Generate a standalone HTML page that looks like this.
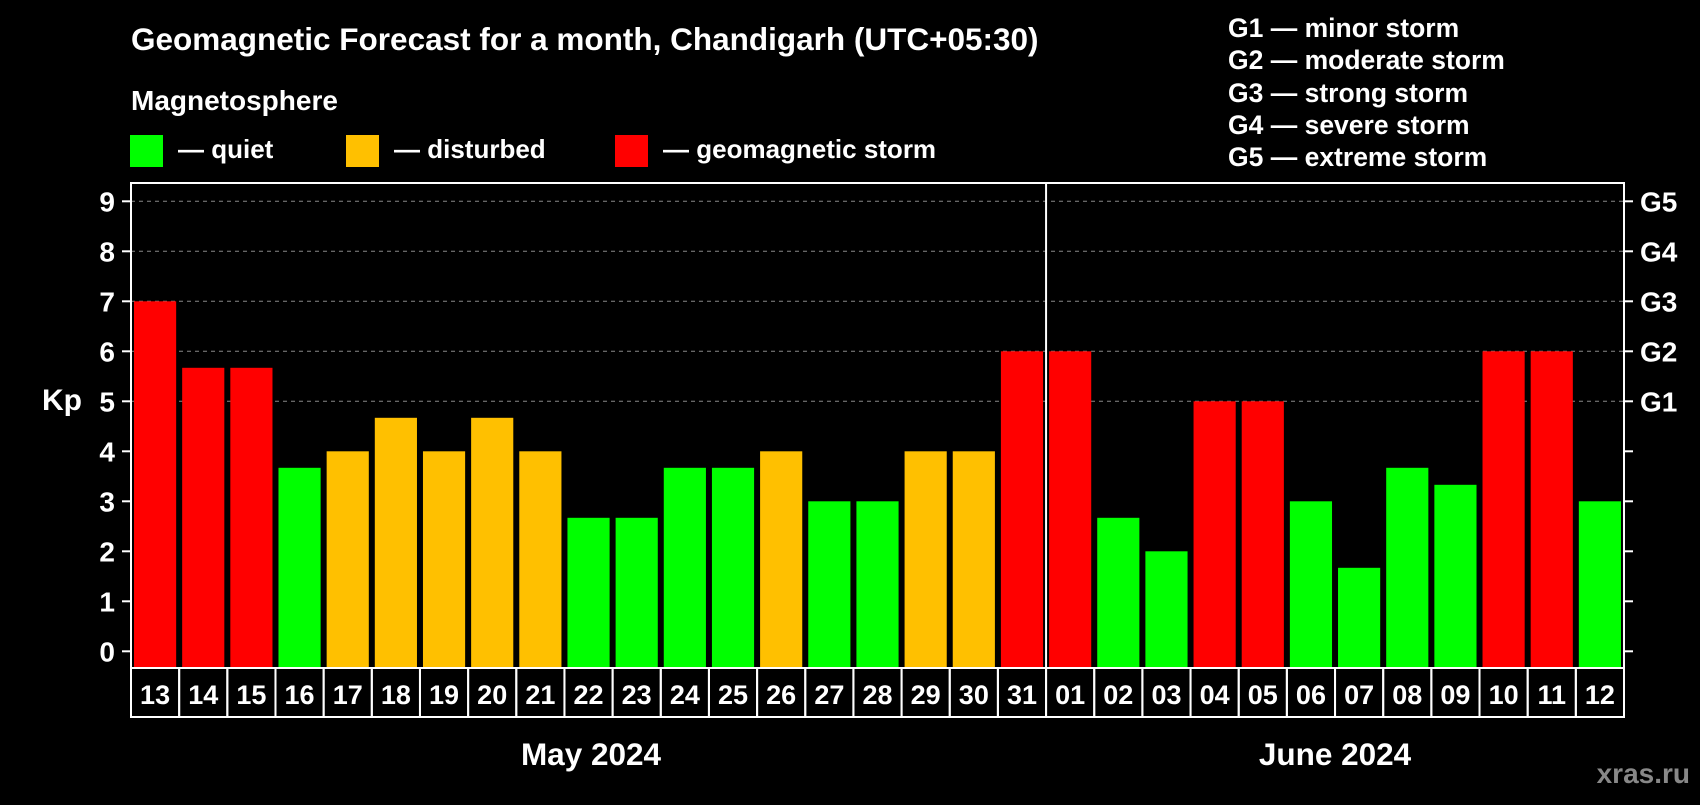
<!DOCTYPE html>
<html><head><meta charset="utf-8"><style>
body{margin:0;background:#000;width:1700px;height:800px;overflow:hidden;font-family:"Liberation Sans",sans-serif}
svg text{font-family:"Liberation Sans",sans-serif;font-weight:bold;fill:#fff}
</style></head><body>
<svg id="c" width="1700" height="800">
<text x="131" y="50" font-size="31.5">Geomagnetic Forecast for a month, Chandigarh (UTC+05:30)</text>
<text x="131" y="110" font-size="28">Magnetosphere</text>
<rect x="130" y="135" width="33" height="32" fill="#00ff00"/>
<text x="178" y="158" font-size="26">— quiet</text>
<rect x="346" y="135" width="33" height="32" fill="#ffc000"/>
<text x="394" y="158" font-size="26">— disturbed</text>
<rect x="615" y="135" width="33" height="32" fill="#ff0000"/>
<text x="663" y="158" font-size="26">— geomagnetic storm</text>
<g font-size="26.5">
<text x="1228" y="37">G1 — minor storm</text>
<text x="1228" y="69">G2 — moderate storm</text>
<text x="1228" y="102">G3 — strong storm</text>
<text x="1228" y="134">G4 — severe storm</text>
<text x="1228" y="166">G5 — extreme storm</text>
</g>
<text x="42" y="410" font-size="30">Kp</text>
<text x="591" y="765" font-size="31.5" text-anchor="middle">May 2024</text>
<text x="1335" y="765" font-size="31.5" text-anchor="middle">June 2024</text>
<text x="1690" y="783" font-size="28" text-anchor="end" style="fill:#888">xras.ru</text>
<g id="plot"></g>
</svg>
<script>
const days=["13","14","15","16","17","18","19","20","21","22","23","24","25","26","27","28","29","30","31","01","02","03","04","05","06","07","08","09","10","11","12"];
const kp=[7,5.67,5.67,3.67,4,4.67,4,4.67,4,2.67,2.67,3.67,3.67,4,3,3,4,4,6,6,2.67,2,5,5,3,1.67,3.67,3.33,6,6,3];
const yTicks=[0,1,2,3,4,5,6,7,8,9];
const gLabels=["G1","G2","G3","G4","G5"];
const gLevels=[5,6,7,8,9];
const L=131,R=1624,T=183,B=668,Y0=651.3,U=50;
const slot=(R-L)/days.length;
const y=v=>Y0-v*U, x=i=>L+i*slot;
const g=document.getElementById('plot');const NS="http://www.w3.org/2000/svg";
function mk(t,a){const e=document.createElementNS(NS,t);for(const k in a)e.setAttribute(k,a[k]);g.appendChild(e);return e;}
gLevels.forEach(v=>{const e=mk('line',{x1:L,x2:R,y1:y(v),y2:y(v),stroke:'#888','stroke-dasharray':'4,4','stroke-width':1});

});
kp.forEach((v,i)=>{const c=v>=5?'#ff0000':v>=4?'#ffc000':'#00ff00';
const r=mk('rect',{x:x(i)+3,y:y(v),width:slot-6,height:Y0-y(v)+17,fill:c});


const b=mk('rect',{x:x(i),y:B,width:slot,height:49,fill:'none',stroke:'#fff','stroke-width':2});


const t=mk('text',{x:x(i)+slot/2,y:B+36,'font-size':27,'text-anchor':'middle'});t.textContent=days[i];

});
yTicks.forEach(v=>{mk('line',{x1:L-9,x2:L,y1:y(v),y2:y(v),stroke:'#fff','stroke-width':2});
mk('line',{x1:R,x2:R+9,y1:y(v),y2:y(v),stroke:'#fff','stroke-width':2});
const t=mk('text',{x:L-16,y:y(v)+10,'font-size':28,'text-anchor':'end'});t.textContent=v;

});
gLevels.forEach((v,i)=>{const t=mk('text',{x:R+16,y:y(v)+10,'font-size':28});t.textContent=gLabels[i];

});
const fr=mk('rect',{x:L,y:T,width:R-L,height:B-T,fill:'none',stroke:'#fff','stroke-width':2});


const dv=mk('line',{x1:x(19),x2:x(19),y1:T,y2:B,stroke:'#fff','stroke-width':2});


</script>
</body></html>
